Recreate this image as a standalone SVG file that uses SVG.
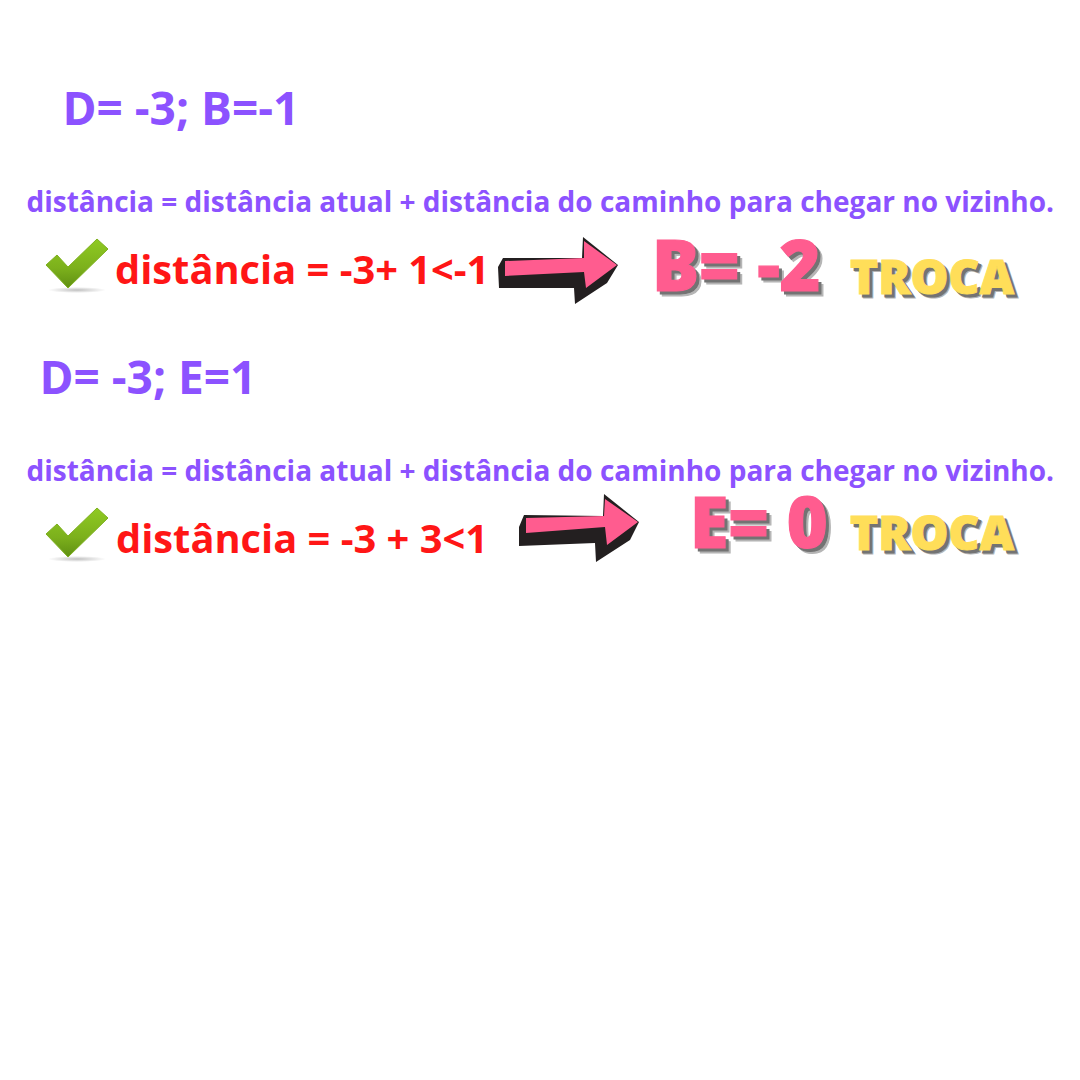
<svg xmlns="http://www.w3.org/2000/svg" width="1080" height="1080" viewBox="0 0 1080 1080">
<defs>
<linearGradient id="chk" x1="0" y1="0" x2="0" y2="1"><stop offset="0" stop-color="#8fca22"/><stop offset="0.6" stop-color="#7cb01c"/><stop offset="1" stop-color="#5f8f12"/></linearGradient>
<radialGradient id="shd"><stop offset="0" stop-color="#000" stop-opacity="0.25"/><stop offset="1" stop-color="#000" stop-opacity="0"/></radialGradient>
<symbol id="check" overflow="visible">
<ellipse cx="32" cy="51" rx="29" ry="3" fill="url(#shd)"/>
<polygon points="1,26 12,16 23,28 52,0 63,10 23,49" fill="url(#chk)" stroke="#7eb01f" stroke-width="1" stroke-linejoin="round"/>
</symbol>
</defs>
<style>
text{font-family:"Open Sans","Noto Sans","Liberation Sans",sans-serif;font-weight:700}
.h{fill:#8c52ff;font-size:46px}
.f{fill:#8c52ff;font-size:28px}
.r{fill:#ff1616;font-size:39.8px}
.big{font-size:70px;font-weight:800;stroke-width:1.2px;letter-spacing:-0.3px}
.tr{font-size:47.7px;font-weight:800;stroke-width:1px}
.p{fill:#ff5c8f;stroke:#ff5c8f}
.y{fill:#ffde59;stroke:#ffde59}
.s1{fill:#b5b5b5;stroke:#b5b5b5}
.s2{fill:#737373;stroke:#737373}
.ab{fill:#231f20}
.ap{fill:#ff5c8f}
</style>
<rect width="1080" height="1080" fill="#fff"/>
<g id="titulo-1"><text class="h" x="62.5" y="125">D= -3; B=-1</text></g>
<g id="formula-1"><text class="f" x="26.5" y="211.5">distância = distância atual + distância do caminho para chegar no vizinho.</text></g>
<g id="check-1"><use href="#check" x="45" y="239"/></g>
<g id="calc-1"><text class="r" x="115" y="284">distância = -3+ 1&lt;-1</text></g>
<g id="seta-1">
<polygon class="ab" points="498,267 503,258 582,258 583,237 618,265 607,283 575,304 574,288 499,288"/>
<polygon class="ap" points="505,261 584,258 584,241 617,265 586,288 584,272 505,276"/>
</g>
<g id="resultado-1">
<text class="big s1" x="657" y="296">B= -2</text>
<text class="big s2" x="655" y="294">B= -2</text>
<text class="big p" x="652" y="291">B= -2</text>
</g>
<g id="troca-1">
<text class="tr s1" x="854" y="298">TROCA</text>
<text class="tr s2" x="853" y="297">TROCA</text>
<text class="tr y" x="850" y="294">TROCA</text>
</g>
<g id="titulo-2"><text class="h" x="39.5" y="394">D= -3; E=1</text></g>
<g id="formula-2"><text class="f" x="26.5" y="480.5">distância = distância atual + distância do caminho para chegar no vizinho.</text></g>
<g id="check-2"><use href="#check" x="45" y="508"/></g>
<g id="calc-2"><text class="r" x="116" y="553">distância = -3 + 3&lt;1</text></g>
<g id="seta-2">
<polygon class="ab" points="519,527 524,515 603,516 604,494 639,522 630,540 596,562 595,543 519,546"/>
<polygon class="ap" points="526,518 604,516 605,499 638,522 607,545 605,527 526,533"/>
</g>
<g id="resultado-2">
<text class="big s1" x="695" y="553">E= 0</text>
<text class="big s2" x="693" y="551">E= 0</text>
<text class="big p" x="690" y="548">E= 0</text>
</g>
<g id="troca-2">
<text class="tr s1" x="854" y="554">TROCA</text>
<text class="tr s2" x="853" y="553">TROCA</text>
<text class="tr y" x="850" y="550">TROCA</text>
</g>
</svg>
